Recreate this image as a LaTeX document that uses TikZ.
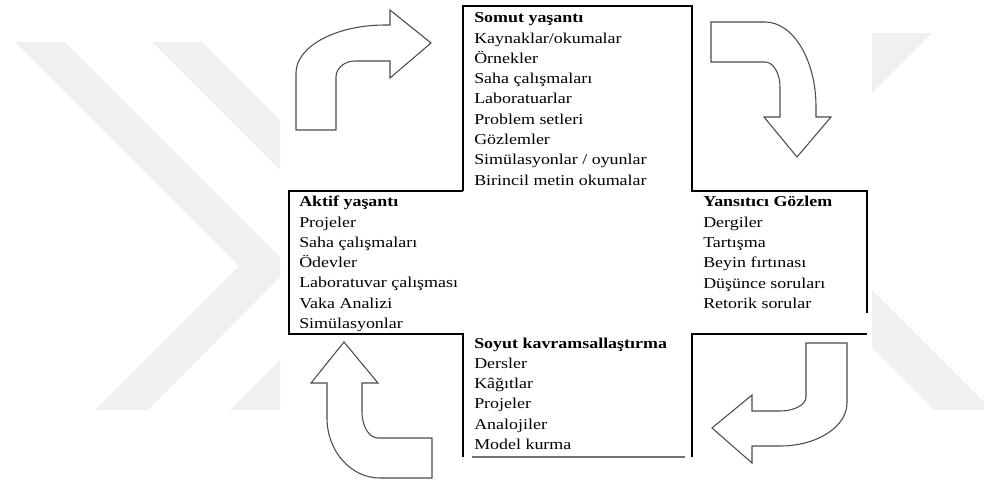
\documentclass[tikz,border=0pt]{standalone}
\usepackage{fontspec}
\usepackage{tikz}
\newfontfamily\tnr[FakeStretch=1.19]{Liberation Serif}

\begin{document}
\begin{tikzpicture}[x=0.75pt,y=-0.75pt]
\tikzstyle{every node}=[font={\tnr\fontsize{11.3}{15.2}\selectfont},inner sep=0pt,align=left,anchor=base west]
\tikzstyle{frame}=[line width=0.8pt]
\tikzstyle{bigarrow}=[draw=black!70,line width=0.8pt,fill=white]
\tikzstyle{wmark}=[fill=black!6]
\useasboundingbox (0,0) rectangle (984,483);
% watermark
\begin{scope}
\clip (0,0) rectangle (280,483) (872,0) rectangle (984,483);
\fill[wmark](15,42)--(65,42)--(290,267)--(148,410)--(95,410)--(239,266)--cycle;
\fill[wmark](152,42)--(202,42)--(425,265)--(280,410)--(230,410)--(375,265)--cycle;
\fill[wmark](800,33)--(932,33)--(800,165)--cycle;
\fill[wmark](872,290)--(984,402)--(984,410)--(934,410)--(872,348)--cycle;
\end{scope}
% frame
\draw[frame](463,191)--(463,6)--(692,6)--(692,191)--(867,191)--(867,313);
\draw[frame](463,191)--(289,191)--(289,334)--(463,334)--(463,457);
\draw[frame](867,334)--(692,334)--(692,457);
\draw[line width=1.6pt,black!55](472,457)--(685,457);
% texts (placed at the baseline of their last line)
\node(somut) at (474,185){\textbf{Somut yaşantı}\\Kaynaklar/okumalar\\Örnekler\\Saha çalışmaları\\Laboratuarlar\\Problem setleri\\Gözlemler\\Simülasyonlar / oyunlar\\Birincil metin okumalar};
\node(aktif) at (299,328.5){\textbf{Aktif yaşantı}\\Projeler\\Saha çalışmaları\\Ödevler\\Laboratuvar çalışması\\Vaka Analizi\\Simülasyonlar};
\node(yansitici) at (703,308.3){\textbf{Yansıtıcı Gözlem}\\Dergiler\\Tartışma\\Beyin fırtınası\\Düşünce soruları\\Retorik sorular};
\node(soyut) at (474,449.5){\textbf{Soyut kavramsallaştırma}\\Dersler\\Kâğıtlar\\Projeler\\Analojiler\\Model kurma};
% arrows
\draw[bigarrow](296,130)--(296,73) arc[start angle=180,end angle=270,x radius=89,y radius=48]--(390,25)--(390,10)--(431,43)--(390,78)--(390,61)--(355,61) arc[start angle=270,end angle=180,x radius=19,y radius=16]--(336,130)--cycle;
\draw[bigarrow](711,22)--(765,22) arc[start angle=270,end angle=360,x radius=51,y radius=85]--(816,117)--(831,117)--(797,157)--(764,117)--(780,117)--(780,87) arc[start angle=0,end angle=-90,x radius=15,y radius=25]--(711,62)--cycle;
\draw[bigarrow](806,343)--(847,343)--(847,403) arc[start angle=0,end angle=90,x radius=67,y radius=43]--(752,446)--(752,463)--(712,428)--(752,395)--(752,411)--(780,411) arc[start angle=90,end angle=0,x radius=26,y radius=14]--cycle;
\draw[bigarrow](432,438)--(432,478)--(380,478) arc[start angle=90,end angle=180,x radius=53,y radius=60]--(327,383)--(311,383)--(344,342)--(378,383)--(362,383)--(362,412) arc[start angle=180,end angle=90,x radius=16,y radius=26]--cycle;

\end{tikzpicture}
\end{document}
